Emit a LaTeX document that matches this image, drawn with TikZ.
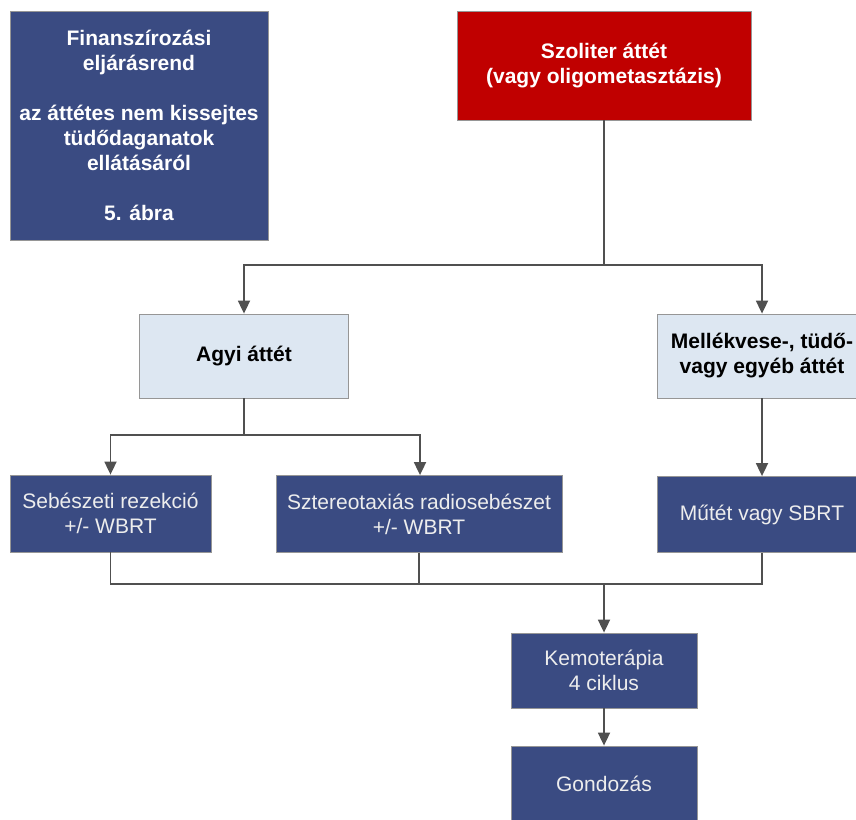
\documentclass[tikz,border=0pt]{standalone}
\usepackage{fontspec}
\setmainfont{Liberation Sans}
\definecolor{fbnavy}{RGB}{58,75,130}
\definecolor{fbred}{RGB}{192,0,0}
\definecolor{fblight}{RGB}{221,231,242}
\definecolor{fbedge}{RGB}{150,150,150}
\definecolor{fbline}{RGB}{80,80,80}
\usetikzlibrary{arrows.meta,positioning,calc}

\begin{document}
\begin{tikzpicture}[
        x=1pt, y=-1pt,
        fbbox/.style={rectangle, draw=fbedge, line width=0.8pt, inner sep=0pt,
                      align=center, font=\fontsize{21}{25}\selectfont},
        navybox/.style={fbbox, fill=fbnavy, text=white!93!black},
        redbox/.style={fbbox, fill=fbred, text=white, font=\fontsize{21}{25}\selectfont\bfseries},
        lightbox/.style={fbbox, fill=fblight, text=black, font=\fontsize{21}{25}\selectfont\bfseries},
        conn/.style={line width=1.8pt, fbline},
        arr/.style={conn, -{Triangle[length=13pt, width=12pt]}}
      ]
        \useasboundingbox (0,0) rectangle (856,819);
        \clip (0,0) rectangle (856,819);
        % Title block
        \node[navybox, font=\fontsize{21}{25}\selectfont\bfseries, text=white,
              minimum width=258pt, minimum height=229pt] (title) at (139,125.5)
          {Finanszírozási\\eljárásrend\\[25pt]az áttétes nem kissejtes\\tüdődaganatok\\ellátásáról\\[25pt]5. ábra};
        % Starting point
        \node[redbox, minimum width=294pt, minimum height=109pt] (szoliter) at (604,65.5)
          {Szoliter áttét\\(vagy oligometasztázis)};
        % Localisation of the metastasis
        \node[lightbox, minimum width=209pt, minimum height=84pt] (agyi) at (244,356)
          {Agyi áttét};
        \node[lightbox, minimum width=210pt, minimum height=84pt] (mellek) at (762,356)
          {Mellékvese-, tüdő-\\vagy egyéb áttét};
        % Local treatment
        \node[navybox, minimum width=201pt, minimum height=77pt] (sebeszet) at (110.5,513.5)
          {Sebészeti rezekció\\+/- WBRT};
        \node[navybox, minimum width=286pt, minimum height=77pt] (sztereo) at (419,514)
          {Sztereotaxiás radiosebészet\\+/- WBRT};
        \node[navybox, minimum width=210pt, minimum height=76pt] (mutet) at (762,514.5)
          {Műtét vagy SBRT};
        % Systemic treatment and follow-up
        \node[navybox, minimum width=186pt, minimum height=75pt] (kemo) at (604,670.5)
          {Kemoterápia\\4 ciklus};
        \node[navybox, minimum width=186pt, minimum height=75pt] (gondozas) at (604,783.5)
          {Gondozás};
        % Branch and merge points
        \coordinate (split1) at (604,265);
        \coordinate (split2) at (244,435);
        \coordinate (merge) at (604,584);
        % Connectors
        \draw[conn] (szoliter.south) -- (split1);
        \draw[arr] (split1) -| (agyi.north);
        \draw[arr] (split1) -| (mellek.north);
        \draw[conn] (agyi.south) -- (split2);
        \draw[arr] (split2) -| (sebeszet.north);
        \draw[arr] (split2) -| ([xshift=1pt]sztereo.north);
        \draw[arr] (mellek.south) -- (mutet.north);
        \draw[conn] (sebeszet.south) |- (merge);
        \draw[conn] (sztereo.south) |- (merge);
        \draw[conn] (mutet.south) |- (merge);
        \draw[arr] (merge) -- (kemo.north);
        \draw[arr] (kemo.south) -- (gondozas.north);
      \end{tikzpicture}
\end{document}
